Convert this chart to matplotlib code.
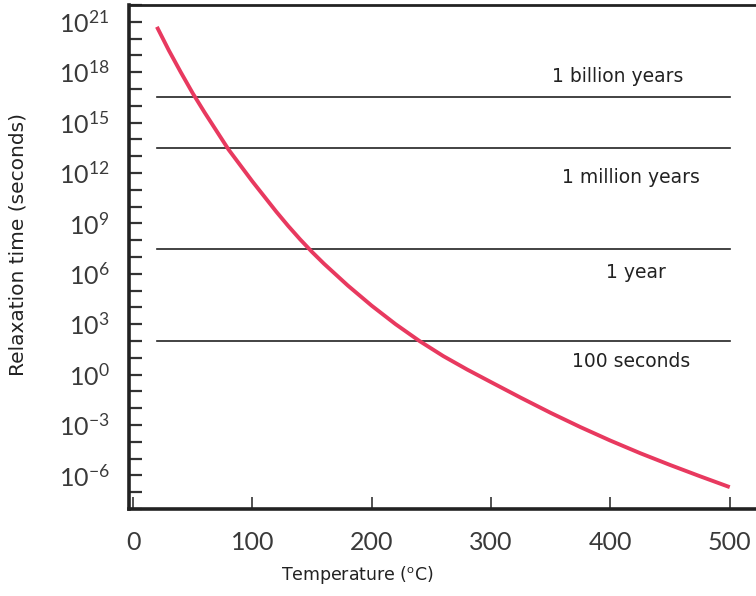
import matplotlib
matplotlib.use("Agg")
import matplotlib.pyplot as plt
from matplotlib.ticker import FixedLocator, NullFormatter
import numpy as np

# Relaxation time vs temperature (log10 seconds)
temp_c = [20, 30, 40, 50, 60, 70, 80, 90, 100, 110, 120, 130, 140, 150, 160,
          170, 180, 190, 200, 220, 240, 260, 280, 300, 325, 350, 375, 400,
          425, 450, 475, 500]
log_tau = [20.7, 19.3, 18.0, 16.75, 15.6, 14.5, 13.4, 12.45, 11.5, 10.6, 9.7,
           8.85, 8.05, 7.3, 6.6, 5.95, 5.3, 4.7, 4.1, 3.0, 2.0, 1.1, 0.3,
           -0.45, -1.38, -2.28, -3.13, -3.93, -4.68, -5.38, -6.05, -6.7]
tau = 10.0 ** np.array(log_tau)

# reference time scales
ref_names = ["1 billion years", "1 million years", "1 year", "100 seconds"]
ref_values = [3.15e16, 3.15e13, 3.15e7, 1e2]
ref_label_y = [10**17.77, 10**11.76, 10**6.05, 10**0.75]
ref_label_x = [406, 417, 421, 417]
line_x = [20, 500]

x_ticks = [0, 100, 200, 300, 400, 500]
y_major = [10.0**k for k in range(-6, 22, 3)]
y_minor = [10.0**k for k in range(-8, 23)]

plt.rcParams['mathtext.fontset'] = 'custom'
plt.rcParams['mathtext.rm'] = 'Lato'
plt.rcParams['mathtext.it'] = 'Lato'

fig = plt.figure(figsize=(7.56, 5.96), dpi=100)
ax = fig.add_axes([0.1706, 0.146, 0.8294, 0.8456])

for v in ref_values:
    ax.plot(line_x, [v, v], color='#222222', lw=1.2)
for name, xx, yy in zip(ref_names, ref_label_x, ref_label_y):
    ax.text(xx, yy, name, ha='center', va='center', fontsize=13.5, color='#222222')

ax.plot(temp_c, tau, color='#E8395F', lw=2.8, solid_capstyle='butt')

ax.set_yscale('log')
ax.set_xlim(-3.4, 522)
ax.set_ylim(1e-8, 1e22)

ax.yaxis.set_major_locator(FixedLocator(y_major))
ax.yaxis.set_minor_locator(FixedLocator(y_minor))
ax.yaxis.set_minor_formatter(NullFormatter())
ax.set_yticklabels([r'$10^{%d}$' % k for k in range(-6, 22, 3)])
ax.set_xticks(x_ticks)
ax.set_xticklabels([str(t) for t in x_ticks], fontfamily='Lato')

ax.tick_params(axis='y', which='both', direction='in', length=9.5, width=1.6,
               color='#333333', labelsize=18, pad=14, labelcolor='#3a3a3a')
ax.tick_params(axis='x', direction='in', length=9, width=1.2, color='#333333',
               labelsize=18, pad=16, labelcolor='#3a3a3a')

ax.spines['right'].set_visible(False)
ax.spines['left'].set_linewidth(2.6)
ax.spines['bottom'].set_linewidth(2.6)
ax.spines['top'].set_linewidth(2.0)
for s in ['left', 'bottom', 'top']:
    ax.spines[s].set_color('#222222')

ax.set_xlabel('Temperature ($^{\\rm o}$C)', fontsize=12.5, color='#222222')
ax.xaxis.set_label_coords(0.364, -0.131)
ax.xaxis.label.set_va('center')
ax.set_ylabel('Relaxation time (seconds)', fontsize=14.5, color='#222222')
ax.yaxis.set_label_coords(-0.177, 0.524)
ax.yaxis.label.set_va('center')

fig.savefig('out.png', dpi=100)
